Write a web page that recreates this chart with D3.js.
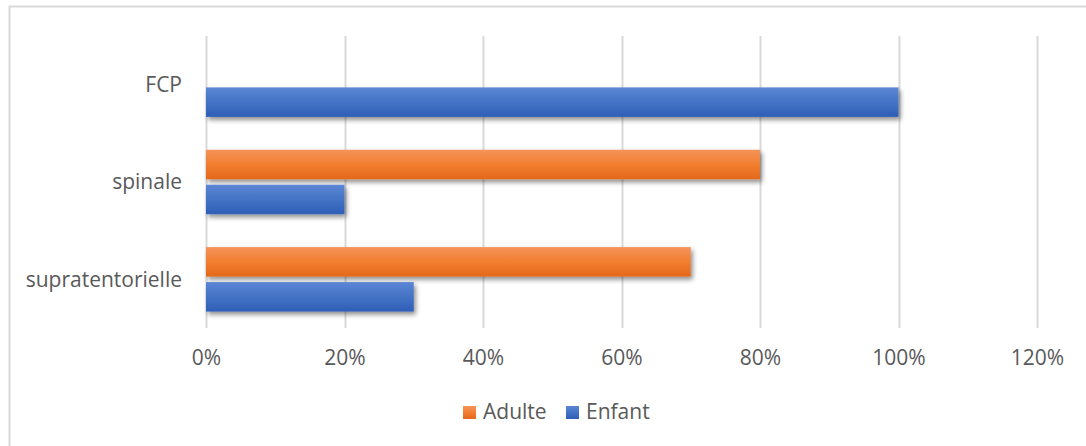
<!DOCTYPE html>
<html>
<head>
<meta charset="utf-8">
<script src="https://cdn.jsdelivr.net/npm/d3@7/dist/d3.min.js"></script>
<style>
  html, body { margin: 0; padding: 0; background: #ffffff; }
  svg { display: block; }
  text { font-family: "Open Sans", "Noto Sans", sans-serif; fill: #595959; }
</style>
</head>
<body>
<svg id="chart" width="1086" height="446"></svg>
<script>
// Tumour location by patient group (share of cases)
const categories = ["FCP", "spinale", "supratentorielle"];
const seriesNames = ["Adulte", "Enfant"];
const adulteValues = [0, 0.80, 0.70];
const enfantValues = [1.00, 0.20, 0.30];
const tickValues = [0, 0.2, 0.4, 0.6, 0.8, 1.0, 1.2];
const tickLabels = ["0%", "20%", "40%", "60%", "80%", "100%", "120%"];

const seriesValues = [adulteValues, enfantValues];
const seriesColors = [
  { top: "#f4935a", mid: "#f27e2f", bottom: "#e3681b", key: "orange" },
  { top: "#5c86d4", mid: "#4473c5", bottom: "#2e5eb8", key: "blue" }
];

const svg = d3.select("#chart");
const W = 1086, H = 446;
const FONT = 21;

// Chart frame
svg.append("path")
  .attr("d", `M9.5,${H} L9.5,6.5 L${W},6.5`)
  .attr("fill", "none")
  .attr("stroke", "#d9d9d9")
  .attr("stroke-width", 2);

const plot = { left: 206, right: 1037, top: 36, bottom: 328 };

const x = d3.scaleLinear().domain([0, 1.2]).range([plot.left, plot.right]);
const y = d3.scaleBand().domain(categories).range([plot.top, plot.bottom]);
const inner = d3.scaleBand().domain(seriesNames).range([0, y.bandwidth()])
  .paddingInner(0.157).paddingOuter(0.47);

const defs = svg.append("defs");
seriesColors.forEach(c => {
  const g = defs.append("linearGradient").attr("id", "grad-" + c.key)
    .attr("x1", 0).attr("y1", 0).attr("x2", 0).attr("y2", 1);
  g.append("stop").attr("offset", "0%").attr("stop-color", c.top);
  g.append("stop").attr("offset", "50%").attr("stop-color", c.mid);
  g.append("stop").attr("offset", "100%").attr("stop-color", c.bottom);
});
const shadow = defs.append("filter").attr("id", "barShadow")
  .attr("x", "-5%").attr("y", "-30%").attr("width", "115%").attr("height", "180%");
shadow.append("feGaussianBlur").attr("in", "SourceAlpha").attr("stdDeviation", 2.4).attr("result", "blur");
shadow.append("feOffset").attr("in", "blur").attr("dx", 2).attr("dy", 3).attr("result", "off");
shadow.append("feComponentTransfer").attr("in", "off").attr("result", "soft")
  .append("feFuncA").attr("type", "linear").attr("slope", 0.45);
const merge = shadow.append("feMerge");
merge.append("feMergeNode").attr("in", "soft");
merge.append("feMergeNode").attr("in", "SourceGraphic");

// Vertical gridlines
svg.append("g")
  .selectAll("line")
  .data(tickValues)
  .join("line")
  .attr("x1", d => Math.round(x(d)) + 0.5)
  .attr("x2", d => Math.round(x(d)) + 0.5)
  .attr("y1", plot.top)
  .attr("y2", plot.bottom)
  .attr("stroke", "#d9d9d9")
  .attr("stroke-width", 2);

// Bars
const groups = svg.append("g")
  .selectAll("g")
  .data(categories)
  .join("g")
  .attr("transform", d => `translate(0,${y(d)})`);

groups.selectAll("rect")
  .data((cat, i) => seriesNames.map((s, si) => ({ series: s, si, value: seriesValues[si][i] })))
  .join("rect")
  .filter(d => d.value > 0)
  .attr("x", x(0))
  .attr("y", d => inner(d.series))
  .attr("width", d => x(d.value) - x(0))
  .attr("height", inner.bandwidth())
  .attr("fill", d => `url(#grad-${seriesColors[d.si].key})`)
  .attr("filter", "url(#barShadow)");

// Category labels
svg.append("g")
  .selectAll("text")
  .data(categories)
  .join("text")
  .attr("x", 182)
  .attr("y", d => y(d) + y.bandwidth() / 2)
  .attr("dy", "0.35em")
  .attr("text-anchor", "end")
  .attr("font-size", FONT)
  .text(d => d);

// Value axis labels
const xAxis = d3.axisBottom(x)
  .tickValues(tickValues)
  .tickFormat((d, i) => tickLabels[i])
  .tickSize(0)
  .tickPadding(0);
const axisG = svg.append("g")
  .attr("transform", `translate(0,358)`)
  .call(xAxis);
axisG.select(".domain").remove();
axisG.selectAll("text")
  .attr("dy", "0.35em")
  .attr("font-size", FONT)
  .attr("font-family", null)
  .attr("fill", "#595959");

// Legend
const legendItems = [
  { name: seriesNames[0], c: seriesColors[0], x: 463 },
  { name: seriesNames[1], c: seriesColors[1], x: 566 }
];
const legend = svg.append("g");
legendItems.forEach(it => {
  legend.append("rect")
    .attr("x", it.x).attr("y", 406)
    .attr("width", 13).attr("height", 13)
    .attr("fill", `url(#grad-${it.c.key})`);
  legend.append("text")
    .attr("x", it.x + 20).attr("y", 412)
    .attr("dy", "0.35em")
    .attr("font-size", FONT)
    .text(it.name);
});
</script>
</body>
</html>
